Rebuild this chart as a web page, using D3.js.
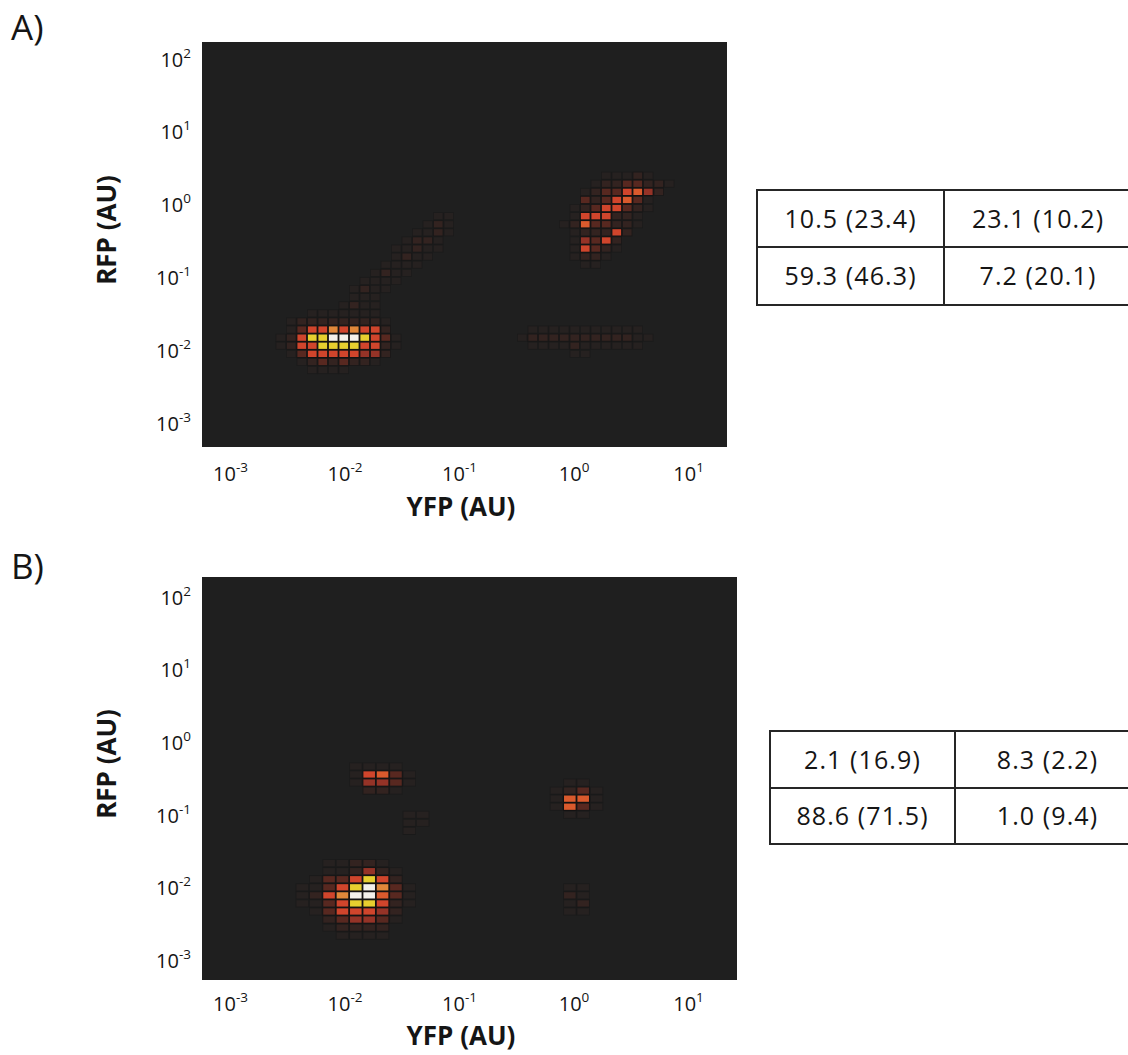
<!DOCTYPE html>
<html>
<head>
<meta charset="utf-8">
<script src="https://cdn.jsdelivr.net/npm/d3@7"></script>
<style>
  body { margin: 0; background: #ffffff; }
  svg text { font-family: "Open Sans", Lato, sans-serif; fill: #151515; }
</style>
</head>
<body>
<svg id="fig" width="1128" height="1055"></svg>
<script>
// Decade ticks on both axes
const yfpTicks = [1e-3, 1e-2, 1e-1, 1e0, 1e1];
const rfpTicks = [1e-3, 1e-2, 1e-1, 1e0, 1e1, 1e2];

// log10 extent of each axis and number of histogram bins per panel
const rangeA = { yfp: [-3.245, 1.34], rfp: [-3.33, 2.233] };
const binsA = { yfp: 50, rfp: 50 };
const rangeB = { yfp: [-3.245, 1.428], rfp: [-3.275, 2.275] };
const binsB = { yfp: 40, rfp: 50 };

// Binned cell density, level 0 (empty) .. 9 (peak).
// Each patch: first RFP bin row (counted from the top), first YFP bin column, one digit per bin.
const densityA = [
  { row: 33, col: 7, rows: [
    "000111111100",
    "012222222210",
    "013557575520",
    "125889998531",
    "125588885521",
    "013555554420",
    "001232322100",
    "000111100000"] },
  { row: 21, col: 13, rows: [
    "000000000110",
    "000000001210",
    "000000011210",
    "000000122100",
    "000001121100",
    "000001211000",
    "000011110000",
    "000121100000",
    "001111000000",
    "012110000000",
    "011100000000",
    "121100000000"] },
  { row: 16, col: 34, rows: [
    "00001112100",
    "00012233221",
    "00123356420",
    "00323563100",
    "01235532100",
    "01555221000",
    "12633221000",
    "01222520000",
    "01435200000",
    "01532100000",
    "01221000000",
    "00110000000"] },
  { row: 35, col: 30, rows: [
    "0111111111110",
    "1222222222211",
    "0111121111110",
    "0000011000000"] }
];

const densityB = [
  { row: 35, col: 7, rows: [
    "001122100",
    "001124210",
    "013358520",
    "113589731",
    "125799631",
    "113588521",
    "013555420",
    "002344310",
    "001222200",
    "000111100"] },
  { row: 23, col: 11, rows: [
    "11110",
    "15631",
    "14431",
    "02210"] },
  { row: 25, col: 26, rows: [
    "0110",
    "1231",
    "1661",
    "1631",
    "0110"] },
  { row: 38, col: 27, rows: ["11", "21", "12", "11"] },
  { row: 29, col: 15, rows: ["11", "11", "10"] }
];

// Quadrant percentages: top row = high RFP, left column = low YFP
const quadrantA = [["10.5 (23.4)", "23.1 (10.2)"], ["59.3 (46.3)", "7.2 (20.1)"]];
const quadrantB = [["2.1 (16.9)", "8.3 (2.2)"], ["88.6 (71.5)", "1.0 (9.4)"]];

const BG = "#1f1f1f";
const GAP = "#121010";
const levelColor = d3.scaleLinear()
  .domain([0, 1, 2, 3, 4, 5, 6, 7, 8, 9])
  .range(["#1f1f1f", "#262120", "#332320", "#582820", "#953327", "#d0452c", "#da5a2d", "#e0883a", "#e7cf2f", "#f4f1ea"]);

const svg = d3.select("#fig");

function drawPanel(p) {
  const x = d3.scaleLog().domain(p.range.yfp.map(v => 10 ** v)).range([p.left, p.right]);
  const y = d3.scaleLog().domain(p.range.rfp.map(v => 10 ** v)).range([p.bottom, p.top]);
  const g = svg.append("g");

  g.append("rect")
    .attr("x", p.left).attr("y", p.top)
    .attr("width", p.right - p.left).attr("height", p.bottom - p.top)
    .attr("fill", BG);

  const xEdge = i => 10 ** (p.range.yfp[0] + i * (p.range.yfp[1] - p.range.yfp[0]) / p.bins.yfp);
  const yEdge = r => 10 ** (p.range.rfp[1] - r * (p.range.rfp[1] - p.range.rfp[0]) / p.bins.rfp);

  const cells = [];
  p.density.forEach(patch => patch.rows.forEach((s, k) => [...s].forEach((ch, j) => {
    const v = +ch;
    if (v > 0) cells.push({ col: patch.col + j, row: patch.row + k, v });
  })));

  const cellG = g.append("g");
  const box = d => ({
    x0: x(xEdge(d.col)), x1: x(xEdge(d.col + 1)),
    y0: y(yEdge(d.row)), y1: y(yEdge(d.row + 1))
  });
  // dark seams between bins, stronger around dense bins
  cellG.selectAll("rect.gap").data(cells).join("rect").attr("class", "gap")
    .attr("x", d => box(d).x0).attr("y", d => box(d).y0)
    .attr("width", d => box(d).x1 - box(d).x0).attr("height", d => box(d).y1 - box(d).y0)
    .attr("fill", GAP)
    .attr("fill-opacity", d => Math.min(1, 0.15 + d.v * 0.14));
  const inset = 0.9;
  cellG.selectAll("rect.cell").data(cells).join("rect").attr("class", "cell")
    .attr("x", d => box(d).x0 + inset).attr("y", d => box(d).y0 + inset)
    .attr("width", d => box(d).x1 - box(d).x0 - 2 * inset)
    .attr("height", d => box(d).y1 - box(d).y0 - 2 * inset)
    .attr("fill", d => levelColor(d.v));

  const supLabel = (sel) => sel.each(function (d) {
    const t = d3.select(this).text(null);
    t.append("tspan").text("10");
    t.append("tspan").attr("dy", -9).attr("font-size", 13.5).text(Math.round(Math.log10(d)));
  });

  g.append("g")
    .attr("transform", `translate(0,${p.bottom})`)
    .call(d3.axisBottom(x).tickValues(yfpTicks).tickSize(0).tickFormat(() => ""))
    .call(a => a.select(".domain").remove())
    .attr("font-size", 20).attr("font-family", "'Open Sans', sans-serif")
    .call(a => a.selectAll(".tick text")
      .attr("y", p.xLabelBase - p.bottom).attr("dy", null).attr("fill", "#151515")
      .call(supLabel));

  g.append("g")
    .attr("transform", `translate(${p.left},0)`)
    .call(d3.axisLeft(y).tickValues(rfpTicks).tickSize(0).tickFormat(() => ""))
    .call(a => a.select(".domain").remove())
    .attr("font-size", 20).attr("font-family", "'Open Sans', sans-serif")
    .call(a => a.selectAll(".tick text")
      .attr("x", p.yLabelRight - p.left).attr("dy", "0.36em").attr("fill", "#151515")
      .call(supLabel));

  g.append("text")
    .attr("x", p.xTitleX).attr("y", p.xTitleBase)
    .attr("text-anchor", "middle").attr("font-size", 26).attr("font-weight", 700)
    .text("YFP (AU)");
  g.append("text")
    .attr("transform", `translate(${p.yTitleBase},${p.yTitleY}) rotate(-90)`)
    .attr("text-anchor", "middle").attr("font-size", 26).attr("font-weight", 700)
    .text("RFP (AU)");

  g.append("text")
    .attr("x", 11).attr("y", p.tagBase)
    .attr("font-size", 35)
    .text(p.tag);

  // quadrant table
  const t = p.table;
  const cols = [t.left, t.mid, t.right];
  const rows = [t.top, t.midY, t.bottom];
  const tg = g.append("g");
  const ink = "#262626";
  tg.append("rect").attr("x", t.left).attr("y", t.top)
    .attr("width", t.right - t.left).attr("height", t.bottom - t.top)
    .attr("fill", "none").attr("stroke", ink).attr("stroke-width", 2);
  tg.append("line").attr("x1", t.left).attr("x2", t.right).attr("y1", t.midY).attr("y2", t.midY)
    .attr("stroke", ink).attr("stroke-width", 2);
  tg.append("line").attr("x1", t.mid).attr("x2", t.mid).attr("y1", t.top).attr("y2", t.bottom)
    .attr("stroke", ink).attr("stroke-width", 2);
  const entries = [];
  p.quadrant.forEach((r, i) => r.forEach((s, j) => entries.push({ s, i, j })));
  tg.selectAll("text").data(entries).join("text")
    .attr("x", d => (cols[d.j] + cols[d.j + 1]) / 2)
    .attr("y", d => (rows[d.i] + rows[d.i + 1]) / 2)
    .attr("dy", "0.36em")
    .attr("text-anchor", "middle").attr("font-size", 25).attr("letter-spacing", 1.1)
    .text(d => d.s);
}

drawPanel({
  tag: "A)", tagBase: 40,
  left: 202, right: 727, top: 42, bottom: 447,
  range: rangeA, bins: binsA, density: densityA, quadrant: quadrantA,
  xLabelBase: 481, yLabelRight: 191,
  xTitleX: 461, xTitleBase: 516, yTitleBase: 116, yTitleY: 230,
  table: { left: 757, mid: 944, right: 1132, top: 190, midY: 247, bottom: 305 }
});

drawPanel({
  tag: "B)", tagBase: 579,
  left: 202, right: 737, top: 577, bottom: 980,
  range: rangeB, bins: binsB, density: densityB, quadrant: quadrantB,
  xLabelBase: 1011, yLabelRight: 191,
  xTitleX: 461, xTitleBase: 1045, yTitleBase: 116, yTitleY: 764,
  table: { left: 770, mid: 955, right: 1140, top: 731, midY: 788, bottom: 844 }
});
</script>
</body>
</html>
